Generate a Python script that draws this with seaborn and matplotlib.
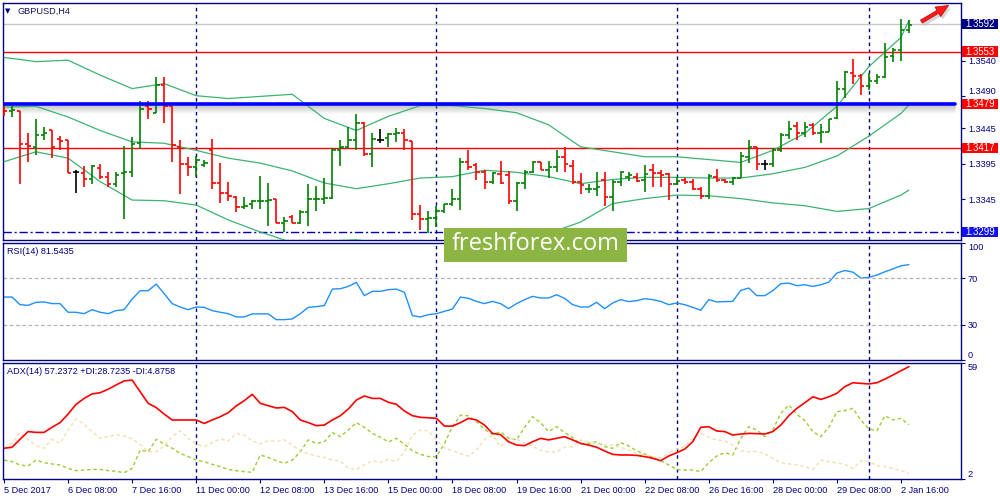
import numpy as np
import pandas as pd
import seaborn as sns
import matplotlib
matplotlib.use("Agg")
from matplotlib import pyplot as plt
from matplotlib.patches import Rectangle
from matplotlib.transforms import blended_transform_factory

# ---- GBPUSD H4 bars, 5 Dec 2017 00:00 .. 2 Jan 2018 20:00 ----
open_ = [1.3477, 1.3469, 1.3470, 1.3423, 1.3419, 1.3436, 1.3442, 1.3430, 1.3428, 1.3383,
         1.3382, 1.3373, 1.3389, 1.3377, 1.3367, 1.3382, 1.3383, 1.3424, 1.3477, 1.3467,
         1.3506, 1.3477, 1.3419, 1.3395, 1.3391, 1.3394, 1.3415, 1.3368, 1.3354, 1.3348,
         1.3334, 1.3338, 1.3342, 1.3343, 1.3345, 1.3312, 1.3320, 1.3312, 1.3327, 1.3345,
         1.3346, 1.3347, 1.3414, 1.3419, 1.3429, 1.3452, 1.3409, 1.3429, 1.3431, 1.3437,
         1.3439, 1.3427, 1.3324, 1.3317, 1.3318, 1.3329, 1.3338, 1.3346, 1.3397, 1.3393,
         1.3383, 1.3370, 1.3381, 1.3379, 1.3343, 1.3368, 1.3383, 1.3397, 1.3387, 1.3390,
         1.3405, 1.3392, 1.3370, 1.3359, 1.3360, 1.3372, 1.3348, 1.3370, 1.3377, 1.3377,
         1.3372, 1.3387, 1.3382, 1.3381, 1.3366, 1.3372, 1.3370, 1.3359, 1.3349, 1.3377,
         1.3372, 1.3370, 1.3375, 1.3405, 1.3419, 1.3395, 1.3395, 1.3415, 1.3436, 1.3449,
         1.3438, 1.3450, 1.3439, 1.3440, 1.3459, 1.3501, 1.3523, 1.3519, 1.3505, 1.3512,
         1.3518, 1.3547, 1.3556, 1.3584]
high = [1.3478, 1.3476, 1.3470, 1.3439, 1.3458, 1.3447, 1.3443, 1.3434, 1.3429, 1.3387,
        1.3392, 1.3393, 1.3395, 1.3383, 1.3383, 1.3420, 1.3433, 1.3484, 1.3484, 1.3517,
        1.3518, 1.3477, 1.3429, 1.3405, 1.3406, 1.3401, 1.3430, 1.3396, 1.3370, 1.3349,
        1.3348, 1.3344, 1.3378, 1.3368, 1.3345, 1.3320, 1.3323, 1.3330, 1.3367, 1.3364,
        1.3375, 1.3417, 1.3429, 1.3447, 1.3465, 1.3454, 1.3439, 1.3444, 1.3438, 1.3445,
        1.3444, 1.3427, 1.3337, 1.3329, 1.3335, 1.3339, 1.3359, 1.3403, 1.3415, 1.3396,
        1.3386, 1.3383, 1.3399, 1.3385, 1.3370, 1.3387, 1.3399, 1.3397, 1.3399, 1.3414,
        1.3419, 1.3401, 1.3382, 1.3367, 1.3383, 1.3384, 1.3372, 1.3385, 1.3383, 1.3382,
        1.3394, 1.3395, 1.3386, 1.3382, 1.3377, 1.3375, 1.3374, 1.3363, 1.3381, 1.3388,
        1.3374, 1.3377, 1.3412, 1.3428, 1.3419, 1.3401, 1.3418, 1.3438, 1.3455, 1.3454,
        1.3454, 1.3452, 1.3451, 1.3458, 1.3512, 1.3526, 1.3543, 1.3522, 1.3523, 1.3522,
        1.3565, 1.3558, 1.3599, 1.3598]
low = [1.3463, 1.3461, 1.3367, 1.3398, 1.3407, 1.3429, 1.3403, 1.3415, 1.3382, 1.3354,
       1.3362, 1.3367, 1.3374, 1.3362, 1.3362, 1.3317, 1.3377, 1.3416, 1.3458, 1.3466,
       1.3452, 1.3397, 1.3353, 1.3378, 1.3377, 1.3390, 1.3359, 1.3340, 1.3342, 1.3327,
       1.3332, 1.3332, 1.3332, 1.3308, 1.3311, 1.3299, 1.3311, 1.3310, 1.3308, 1.3328,
       1.3339, 1.3345, 1.3392, 1.3417, 1.3414, 1.3406, 1.3390, 1.3425, 1.3419, 1.3426,
       1.3414, 1.3316, 1.3302, 1.3298, 1.3306, 1.3326, 1.3335, 1.3330, 1.3386, 1.3372,
       1.3359, 1.3367, 1.3367, 1.3338, 1.3328, 1.3360, 1.3382, 1.3386, 1.3375, 1.3383,
       1.3383, 1.3367, 1.3352, 1.3354, 1.3349, 1.3336, 1.3328, 1.3364, 1.3371, 1.3370,
       1.3356, 1.3363, 1.3362, 1.3344, 1.3365, 1.3367, 1.3358, 1.3345, 1.3346, 1.3370,
       1.3368, 1.3365, 1.3375, 1.3396, 1.3387, 1.3387, 1.3391, 1.3412, 1.3430, 1.3428,
       1.3433, 1.3436, 1.3425, 1.3440, 1.3458, 1.3488, 1.3508, 1.3492, 1.3499, 1.3508,
       1.3516, 1.3538, 1.3540, 1.3580]
close = [1.3470, 1.3471, 1.3423, 1.3420, 1.3435, 1.3438, 1.3419, 1.3427, 1.3382, 1.3383,
         1.3373, 1.3392, 1.3377, 1.3367, 1.3379, 1.3383, 1.3423, 1.3472, 1.3472, 1.3506,
         1.3477, 1.3422, 1.3395, 1.3391, 1.3400, 1.3396, 1.3368, 1.3354, 1.3349, 1.3334,
         1.3335, 1.3342, 1.3343, 1.3344, 1.3312, 1.3315, 1.3312, 1.3327, 1.3345, 1.3346,
         1.3347, 1.3414, 1.3419, 1.3429, 1.3452, 1.3409, 1.3430, 1.3429, 1.3437, 1.3439,
         1.3429, 1.3324, 1.3317, 1.3318, 1.3329, 1.3338, 1.3346, 1.3397, 1.3391, 1.3384,
         1.3370, 1.3382, 1.3368, 1.3343, 1.3368, 1.3383, 1.3397, 1.3387, 1.3390, 1.3405,
         1.3395, 1.3370, 1.3365, 1.3360, 1.3363, 1.3348, 1.3370, 1.3383, 1.3379, 1.3371,
         1.3381, 1.3382, 1.3379, 1.3366, 1.3371, 1.3370, 1.3359, 1.3349, 1.3378, 1.3372,
         1.3370, 1.3375, 1.3406, 1.3419, 1.3395, 1.3395, 1.3415, 1.3436, 1.3444, 1.3438,
         1.3447, 1.3439, 1.3440, 1.3458, 1.3501, 1.3525, 1.3519, 1.3505, 1.3512, 1.3518,
         1.3546, 1.3556, 1.3584, 1.3590]

# Bollinger bands, read every 4th bar
band_bar = [0, 4, 8, 12, 16, 20, 24, 28, 32, 36, 40, 44, 48, 52, 56, 60, 64, 68, 72, 76,
            80, 84, 88, 92, 96, 100, 104, 108, 112, 113]
band_upper = [1.3545, 1.3539, 1.3541, 1.3520, 1.3501, 1.3508, 1.3491, 1.3487, 1.3490, 1.3493,
              1.3459, 1.3442, 1.3462, 1.3477, 1.3477, 1.3473, 1.3467, 1.3450, 1.3419, 1.3412,
              1.3405, 1.3405, 1.3401, 1.3397, 1.3414, 1.3438, 1.3476, 1.3532, 1.3573, 1.3597]
band_mid = [1.3475, 1.3476, 1.3461, 1.3442, 1.3426, 1.3424, 1.3414, 1.3403, 1.3396, 1.3385,
            1.3368, 1.3360, 1.3367, 1.3375, 1.3377, 1.3386, 1.3383, 1.3377, 1.3367, 1.3373,
            1.3376, 1.3376, 1.3375, 1.3375, 1.3381, 1.3390, 1.3406, 1.3434, 1.3466, 1.3478]
band_lower = [1.3398, 1.3412, 1.3403, 1.3370, 1.3344, 1.3343, 1.3337, 1.3316, 1.3299, 1.3284,
              1.3286, 1.3288, 1.3282, 1.3262, 1.3255, 1.3262, 1.3280, 1.3297, 1.3313, 1.3339,
              1.3346, 1.3351, 1.3350, 1.3346, 1.3340, 1.3336, 1.3328, 1.3332, 1.3351, 1.3358]

rsi = [53.8, 53.8, 47.3, 46.7, 49.3, 49.6, 48.2, 48.2, 40.8, 40.8,
       39.6, 43.0, 40.8, 39.6, 42.2, 43.0, 52.1, 59.2, 59.2, 64.9,
       56.7, 48.2, 45.3, 43.0, 45.3, 45.0, 42.2, 40.8, 39.6, 36.8,
       36.8, 39.4, 39.4, 39.4, 34.5, 34.5, 35.1, 39.6, 45.0, 45.6,
       46.5, 60.6, 60.9, 62.9, 66.3, 55.0, 58.7, 58.7, 60.1, 60.6,
       57.8, 37.9, 36.8, 38.8, 39.6, 41.6, 43.6, 53.8, 52.7, 50.1,
       48.2, 50.1, 48.2, 43.9, 48.2, 51.6, 54.4, 53.0, 53.0, 55.8,
       52.7, 47.3, 45.3, 45.3, 49.3, 43.9, 48.7, 51.6, 49.9, 50.7,
       52.4, 51.6, 50.1, 47.3, 48.7, 47.3, 45.0, 42.5, 51.6, 49.6,
       49.9, 50.1, 59.5, 61.5, 55.0, 55.0, 59.2, 65.2, 65.7, 63.5,
       64.3, 62.9, 64.3, 66.6, 74.3, 76.5, 75.1, 70.0, 70.6, 72.6,
       75.4, 77.9, 80.5, 81.5]
adx = [17.1, 17.6, 21.5, 25.3, 24.9, 24.9, 27.4, 29.7, 33.9, 38.7,
       41.6, 43.8, 44.4, 46.1, 48.2, 50.2, 50.6, 44.9, 39.2, 37.1,
       33.9, 31.0, 31.0, 31.0, 31.0, 29.3, 31.0, 32.6, 34.6, 37.9,
       40.5, 43.6, 39.2, 38.0, 36.9, 37.2, 35.1, 31.0, 29.7, 28.2,
       28.5, 31.0, 33.1, 36.4, 40.8, 42.8, 41.6, 41.6, 39.7, 38.7,
       35.4, 33.1, 32.3, 32.1, 31.8, 28.0, 28.0, 29.7, 31.8, 31.0,
       28.5, 24.4, 23.8, 20.3, 18.7, 18.4, 20.3, 22.0, 21.2, 22.0,
       22.8, 21.2, 19.5, 18.7, 17.6, 15.8, 14.1, 13.8, 13.8, 13.6,
       13.0, 12.2, 11.0, 13.3, 14.9, 16.7, 20.3, 27.4, 27.7, 25.6,
       25.3, 23.6, 24.1, 24.4, 24.3, 24.1, 25.3, 28.5, 33.1, 36.7,
       39.5, 42.4, 41.1, 42.4, 44.1, 47.4, 49.3, 49.0, 48.7, 49.3,
       51.1, 53.1, 55.2, 57.2]
plus_di = [11.3, 10.5, 8.9, 8.4, 11.3, 10.0, 9.4, 8.9, 7.2, 6.1,
           6.4, 6.7, 6.7, 6.1, 5.8, 5.1, 7.2, 16.2, 15.4, 21.5,
           19.2, 17.1, 14.6, 13.0, 11.3, 10.5, 9.2, 8.1, 6.7, 6.1,
           5.6, 5.3, 13.8, 12.6, 11.0, 9.7, 11.3, 15.4, 21.2, 19.5,
           20.3, 24.8, 22.8, 26.1, 29.7, 27.4, 24.4, 22.5, 20.2, 22.0,
           19.0, 15.9, 14.1, 13.0, 13.0, 19.5, 27.7, 33.4, 33.0, 30.2,
           26.4, 23.9, 25.2, 22.1, 21.2, 27.4, 32.6, 29.7, 25.3, 27.7,
           24.8, 22.3, 19.2, 19.5, 20.3, 17.9, 17.1, 19.9, 18.2, 15.9,
           14.3, 12.6, 11.0, 8.9, 6.7, 6.4, 6.4, 5.6, 10.0, 13.3,
           14.9, 13.8, 22.0, 27.7, 26.1, 22.8, 26.1, 34.3, 38.4, 33.8,
           30.7, 25.3, 22.8, 27.4, 35.1, 35.6, 36.7, 31.0, 26.6, 25.7,
           33.1, 31.0, 31.8, 28.7]
minus_di = [17.1, 19.5, 24.8, 21.2, 18.4, 17.1, 21.5, 19.5, 26.1, 31.5,
            28.9, 25.3, 22.0, 22.8, 23.8, 23.1, 21.7, 19.0, 15.3, 15.4,
            18.2, 22.8, 25.7, 22.0, 19.2, 17.9, 19.9, 21.7, 20.7, 24.4,
            23.6, 20.7, 19.2, 20.8, 20.5, 21.2, 18.7, 15.8, 14.4, 13.3,
            12.6, 11.3, 10.7, 7.2, 6.7, 9.0, 11.0, 10.2, 11.7, 10.5,
            15.4, 23.6, 26.1, 25.6, 21.2, 17.4, 15.9, 14.4, 13.3, 16.2,
            21.5, 23.6, 17.9, 21.8, 21.5, 19.9, 17.9, 16.2, 15.3, 15.4,
            17.6, 17.9, 21.2, 20.2, 19.4, 18.7, 18.7, 17.6, 16.2, 14.6,
            13.8, 13.0, 12.6, 14.6, 16.6, 18.2, 21.7, 24.4, 22.5, 21.2,
            20.7, 18.7, 15.9, 15.4, 15.6, 14.4, 12.1, 10.0, 9.4, 8.9,
            8.1, 6.7, 11.3, 10.5, 9.9, 9.2, 7.1, 11.0, 10.7, 8.5,
            8.1, 7.1, 6.1, 4.9]

tick_bars = [0, 8, 16, 24, 32, 40, 48, 56, 64, 72, 80, 88, 96, 104, 112]
tick_labels = ["5 Dec 2017", "6 Dec 08:00", "7 Dec 16:00", "11 Dec 00:00", "12 Dec 08:00",
               "13 Dec 16:00", "15 Dec 00:00", "18 Dec 08:00", "19 Dec 16:00", "21 Dec 00:00",
               "22 Dec 08:00", "26 Dec 16:00", "28 Dec 00:00", "29 Dec 08:00", "2 Jan 16:00"]
week_bars = [24, 54, 84, 108]
price_ticks = [1.3540, 1.3490, 1.3445, 1.3395, 1.3345]

bid = 1.3592
resistance = 1.3553
pivot = 1.3479
support = 1.3417
low_line = 1.3299

NAVY = "#000080"
UP = "#008000"
DOWN = "#ff0000"
BAND = "#3cb371"
FS = 6.6

sns.set_style("white")
plt.rcParams['font.family'] = ['Liberation Sans', 'DejaVu Sans']

fig = plt.figure(figsize=(10, 5), dpi=100)
fig.patch.set_facecolor("white")
ax = fig.add_axes([0.003, 0.52, 0.958, 0.474])
ax_rsi = fig.add_axes([0.003, 0.28, 0.958, 0.234], sharex=ax)
ax_adx = fig.add_axes([0.003, 0.042, 0.958, 0.232], sharex=ax)

df = pd.DataFrame({"open": open_, "high": high, "low": low, "close": close})
df["bar"] = np.arange(len(df))
colors = np.where(df.close > df.open, UP, np.where(df.close < df.open, DOWN, "black"))

# OHLC bars
ax.vlines(df.bar, df.low, df.high, colors=colors, lw=1.2, zorder=4)
ax.hlines(df.open, df.bar - 0.42, df.bar, colors=colors, lw=1.2, zorder=4)
ax.hlines(df.close, df.bar, df.bar + 0.42, colors=colors, lw=1.2, zorder=4)

# Bollinger bands
for band in (band_upper, band_mid, band_lower):
    sns.lineplot(x=band_bar, y=band, ax=ax, color=BAND, lw=0.9, zorder=3)

# horizontal levels
ax.axhline(bid, color="#c8c8c8", lw=1, zorder=2)
ax.axhline(resistance, color="red", lw=1, zorder=2)
ax.axhline(support, color="red", lw=1, zorder=2)
ax.axhline(low_line, color="#0000c0", lw=1, ls=(0, (6, 2, 1.5, 2)), zorder=2)
px = 0.00014086
for k in range(1, 9):
    ax.axhline(pivot - px * (k + 0.5), xmax=0.994, color="gray", alpha=0.32 * (1 - k / 9), lw=1.2, zorder=2)
ax.axhline(pivot, xmax=0.994, color="#0000ff", lw=2.6, zorder=5)

# RSI
sns.lineplot(x=df.bar, y=rsi, ax=ax_rsi, color="#1e90ff", lw=1)
for lvl in (70, 30):
    ax_rsi.axhline(lvl, color="#b4b4b4", lw=0.9, ls=(0, (3, 2)))

# ADX
sns.lineplot(x=df.bar, y=plus_di, ax=ax_adx, color="#9acd32", lw=1, linestyle=(0, (2.5, 2)))
sns.lineplot(x=df.bar, y=minus_di, ax=ax_adx, color="#f5deb3", lw=1, linestyle=(0, (2.5, 2)))
sns.lineplot(x=df.bar, y=adx, ax=ax_adx, color="red", lw=1.2)

for a in (ax, ax_rsi, ax_adx):
    for b in week_bars:
        a.axvline(b, color=NAVY, lw=1, ls=(0, (2.5, 2.5)), zorder=1)
    for s in a.spines.values():
        s.set_color(NAVY)
        s.set_linewidth(1)
    a.set_xlim(-0.125, 119.5)
    a.set_xlabel("")
    a.set_ylabel("")
    a.yaxis.tick_right()
    a.tick_params(axis="y", which="both", right=True, left=False, direction="out",
                  length=3, width=0.8, color=NAVY, labelcolor=NAVY, labelsize=FS, pad=2)
    a.set_facecolor("white")

ax.set_ylim(1.32877, 1.36216)
ax.set_yticks(price_ticks)
ax.set_yticklabels([f"{v:.4f}" for v in price_ticks])
ax.get_yticklabels()[1].set_va("bottom")
ax.tick_params(axis="x", bottom=False, labelbottom=False)
ax_rsi.tick_params(axis="x", bottom=False, labelbottom=False)

ax_rsi.set_ylim(0, 100)
ax_rsi.set_yticks([100, 70, 30, 0])
ax_rsi.set_yticklabels(["100", "70", "30", "0"])
rl = ax_rsi.get_yticklabels()
rl[0].set_va("top")
rl[3].set_va("bottom")

ax_adx.set_ylim(2, 59)
ax_adx.set_yticks([59, 2])
ax_adx.set_yticklabels(["59", "2"])
al = ax_adx.get_yticklabels()
al[0].set_va("top")
al[1].set_va("bottom")

ax_adx.set_xticks(tick_bars)
ax_adx.set_xticklabels(tick_labels, ha="left")
ax_adx.tick_params(axis="x", bottom=True, direction="out", length=3, width=0.8,
                   color=NAVY, labelcolor=NAVY, labelsize=FS, pad=2)

# coloured price boxes on the right scale
tr = blended_transform_factory(ax.transAxes, ax.transData)
for val, fc in [(bid, NAVY), (resistance, "#ff0000"), (pivot, "#ff0000"),
                (support, "#ff0000"), (low_line, "#1010f0")]:
    ax.add_patch(Rectangle((1.001, val - 0.00074), 0.0376, 0.00148, transform=tr,
                           facecolor=fc, edgecolor="none", clip_on=False, zorder=20))
    ax.text(1.0198, val, f"{val:.4f}", transform=tr, ha="center", va="center",
            color="white", fontsize=6.9, clip_on=False, zorder=21)

# window captions
fig.text(0.005, 0.978, "\u25bc", fontsize=5, color=NAVY, va="center", family="DejaVu Sans")
fig.text(0.018, 0.978, "GBPUSD,H4", fontsize=FS, color="#141460", va="center")
fig.text(0.007, 0.498, "RSI(14) 81.5435", fontsize=FS, color=NAVY, va="center")
fig.text(0.007, 0.256, "ADX(14) 57.2372 +DI:28.7235 -DI:4.8758", fontsize=FS, color=NAVY, va="center")

# watermark
fig.add_artist(Rectangle((0.444, 0.476), 0.183, 0.068, transform=fig.transFigure,
                         facecolor="#8db543", edgecolor="none", zorder=30))
fig.text(0.5355, 0.511, "freshforex.com", fontsize=17, color="white", ha="center", va="center",
         family=["Open Sans", "DejaVu Sans"], zorder=31)

# trend arrow
arrow = dict(arrowstyle="simple,head_length=0.9,head_width=0.8,tail_width=0.25",
             fc="#ff1a1a", ec="#c00000", lw=0.5)
shadow = dict(arrowstyle="simple,head_length=0.9,head_width=0.8,tail_width=0.25",
              fc="#bbbbbb", ec="none", alpha=0.6)
ax.annotate("", xy=(953, 493), xytext=(921, 474), xycoords="figure pixels",
            textcoords="figure pixels", arrowprops=shadow, annotation_clip=False)
ax.annotate("", xy=(951, 496), xytext=(919, 477), xycoords="figure pixels",
            textcoords="figure pixels", arrowprops=arrow, annotation_clip=False)

fig.savefig("out.png", dpi=100, facecolor="white")
